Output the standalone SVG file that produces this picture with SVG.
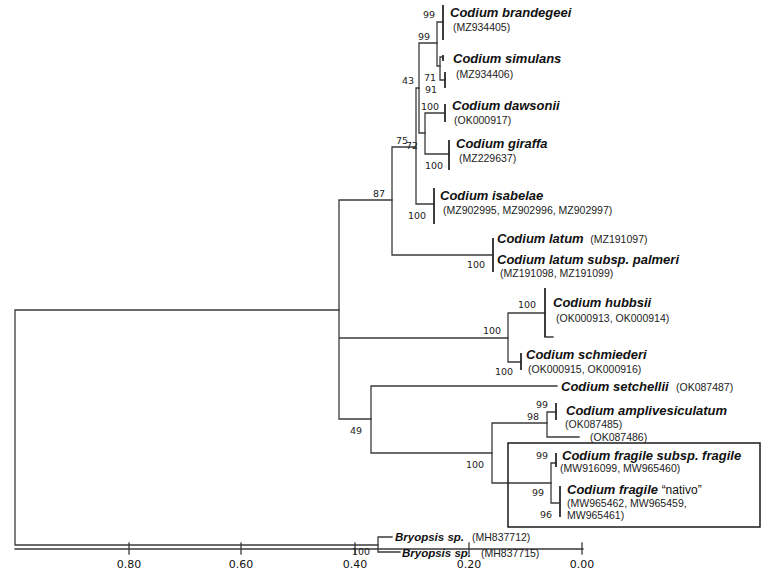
<svg xmlns="http://www.w3.org/2000/svg" width="784" height="574" viewBox="0 0 784 574">
<style>
.br{stroke:#3a3a3a;stroke-width:1.3;fill:none;stroke-linecap:square}
.tip{stroke:#2a2a2a;stroke-width:1.8;fill:none}
.sp{font-family:"Liberation Sans",Arial,sans-serif;font-size:13px;font-weight:bold;font-style:italic;fill:#111}
.sps{font-family:"Liberation Sans",Arial,sans-serif;font-size:11.5px;font-weight:bold;font-style:italic;fill:#111}
.acc{font-family:"Liberation Sans",Arial,sans-serif;font-size:10.5px;fill:#222;font-weight:normal;font-style:normal}
.bs{font-family:"DejaVu Sans",Verdana,sans-serif;font-size:9.5px;fill:#222}
.ax{font-family:"DejaVu Sans",Verdana,sans-serif;font-size:11px;fill:#111;text-anchor:middle}
</style>
<rect width="784" height="574" fill="#fff"/>
<g id="connectors">
<path class="br" d="M15,310 V545 M15,310 H339 M15,545 H378"/>
<path class="br" d="M339,200 V419 M339,200 H392 M339,338 H508 M339,419 H371"/>
<path class="br" d="M392,147 V255 M392,147 H416 M392,255 H493"/>
<path class="br" d="M416,88 V204 M416,204 H434 M416,88 H419"/>
<path class="br" d="M419,43 V133 M419,43 H437 M419,133 H425"/>
<path class="br" d="M437,22 V66 M437,22 H443 M437,66 H440"/>
<path class="br" d="M440,57 V80 M440,57 H443 M440,80 H445"/>
<path class="br" d="M425,113 V154 M425,113 H445 M425,154 H449"/>
<path class="br" d="M508,313 V362 M508,313 H545 M508,362 H521 M545,337 H553"/>
<path class="br" d="M371,386 V453 M371,386 H557 M371,453 H492"/>
<path class="br" d="M492,423 V483 M492,423 H547 M492,483 H551"/>
<path class="br" d="M547,412 V437 M547,412 H556 M547,437 H579"/>
<path class="br" d="M551,463 V503 M551,463 H556 M551,503 H559"/>
<path class="br" d="M378,537 V552 M378,537 H392 M378,552 H400"/>
<path class="tip" d="M443,5 V40 M443,55 V61 M445,72 V88 M445,104 V122 M449,140 V170 M434,188 V224 M493,238 V272 M545,288 V337 M521,353 V370 M556,403 V420 M556,453 V467 M560,486 V517"/>
<path class="br" d="M15,549 H583 M129,543 V554 M241,543 V554 M355,543 V554 M469,543 V554 M582,543 V554"/>
</g>
<g id="n-brandegeei">
<text class="bs" x="423" y="18">99</text>
<text class="sp" x="450" y="17">Codium brandegeei</text>
<text class="acc" x="453" y="31">(MZ934405)</text>
</g>
<g id="node-99">
<text class="bs" x="418" y="40">99</text>
</g>
<g id="n-simulans">
<text class="sp" x="453" y="63">Codium simulans</text>
<text class="acc" x="456" y="78">(MZ934406)</text>
<text class="bs" x="424" y="81">71</text>
<text class="bs" x="425" y="93">91</text>
</g>
<g id="node-43">
<text class="bs" x="402" y="84">43</text>
</g>
<g id="n-dawsonii">
<text class="bs" x="421" y="110">100</text>
<text class="sp" x="452" y="110">Codium dawsonii</text>
<text class="acc" x="454" y="124">(OK000917)</text>
</g>
<g id="n-giraffa">
<text class="sp" x="456" y="148">Codium giraffa</text>
<text class="acc" x="459" y="162">(MZ229637)</text>
<text class="bs" x="425" y="169">100</text>
</g>
<g id="node-75">
<text class="bs" x="396" y="144">75</text>
<text class="bs" x="406" y="149">72</text>
</g>
<g id="n-isabelae">
<text class="sp" x="440" y="200">Codium isabelae</text>
<text class="acc" x="443" y="214">(MZ902995, MZ902996, MZ902997)</text>
<text class="bs" x="408" y="219">100</text>
</g>
<g id="node-87">
<text class="bs" x="373" y="197">87</text>
</g>
<g id="n-latum">
<text class="sp" x="497" y="243">Codium latum <tspan class="acc" dx="3">(MZ191097)</tspan></text>
<text class="sp" x="497" y="264">Codium latum subsp. palmeri</text>
<text class="acc" x="500" y="277">(MZ191098, MZ191099)</text>
<text class="bs" x="467" y="268">100</text>
</g>
<g id="n-hubbsii">
<text class="bs" x="483" y="334">100</text>
<text class="bs" x="518" y="308">100</text>
<text class="sp" x="553" y="307">Codium hubbsii</text>
<text class="acc" x="556" y="322">(OK000913, OK000914)</text>
</g>
<g id="n-schmiederi">
<text class="sp" x="526" y="359">Codium schmiederi</text>
<text class="acc" x="528" y="373">(OK000915, OK000916)</text>
<text class="bs" x="495" y="375">100</text>
</g>
<g id="n-setchellii">
<text class="sp" x="561" y="391">Codium setchellii</text>
<text class="acc" x="676" y="391">(OK087487)</text>
</g>
<g id="node-49">
<text class="bs" x="350" y="434">49</text>
<text class="bs" x="466" y="468">100</text>
</g>
<g id="n-amplivesiculatum">
<text class="bs" x="536" y="408">99</text>
<text class="bs" x="527" y="420">98</text>
<text class="sp" x="566" y="415">Codium amplivesiculatum</text>
<text class="acc" x="565" y="428">(OK087485)</text>
<text class="acc" x="590" y="441">(OK087486)</text>
</g>
<g id="n-fragile-box">
<rect x="508" y="443" width="252" height="84" fill="none" stroke="#1a1a1a" stroke-width="1.5"/>
</g>
<g id="n-fragile">
<text class="bs" x="536" y="459">99</text>
<text class="sp" x="562" y="460">Codium fragile subsp. fragile</text>
<text class="acc" x="560" y="472">(MW916099, MW965460)</text>
</g>
<g id="n-nativo">
<text class="bs" x="532" y="496">99</text>
<text class="bs" x="540" y="518">96</text>
<text class="sp" x="567" y="494">Codium fragile <tspan font-weight="normal" font-style="normal" font-size="12px">“nativo”</tspan></text>
<text class="acc" x="567" y="507">(MW965462, MW965459,</text>
<text class="acc" x="567" y="519">MW965461)</text>
</g>
<g id="n-bryopsis1">
<text class="sps" x="395" y="541">Bryopsis sp.</text>
<text class="acc" x="472" y="541">(MH837712)</text>
</g>
<g id="n-bryopsis2">
<text class="bs" x="352" y="555">100</text>
<text class="sps" x="402" y="557">Bryopsis sp.</text>
<text class="acc" x="481" y="557">(MH837715)</text>
</g>
<g id="scale">
<text class="ax" x="129" y="568">0.80</text>
<text class="ax" x="241" y="568">0.60</text>
<text class="ax" x="355" y="568">0.40</text>
<text class="ax" x="469" y="568">0.20</text>
<text class="ax" x="582" y="568">0.00</text>
</g>
</svg>
